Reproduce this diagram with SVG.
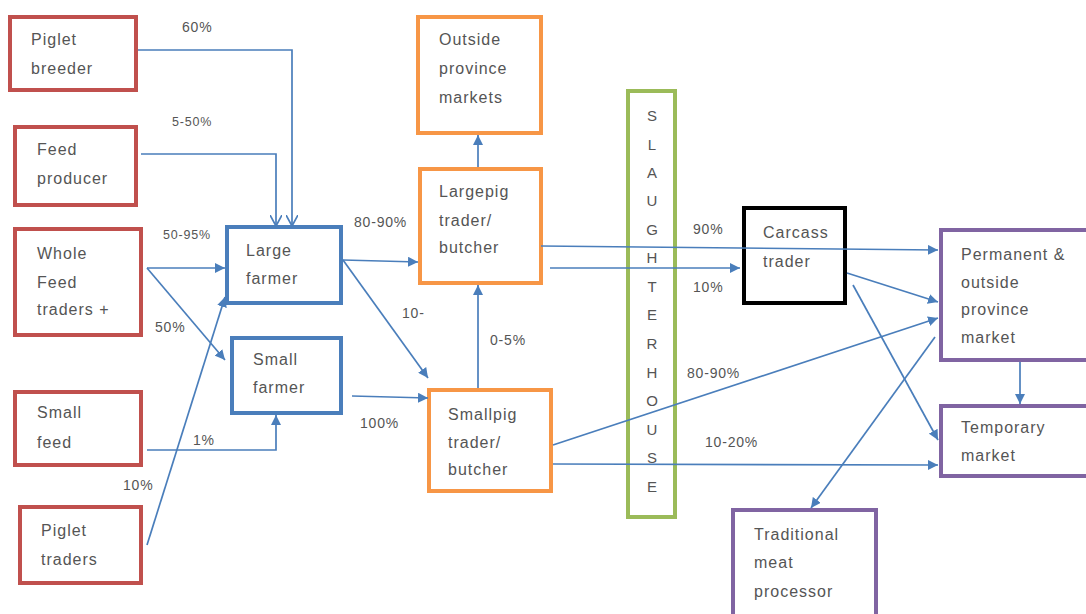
<svg xmlns="http://www.w3.org/2000/svg" width="1086" height="614" viewBox="0 0 1086 614">
<style>
text{font-family:"Liberation Sans",Arial,sans-serif;fill:#555;}
.n{font-size:16px;letter-spacing:1px;}
.p{font-size:14px;letter-spacing:0.8px;}
.ps{font-size:12.5px;letter-spacing:0.8px;}
.box{fill:#fff;stroke-width:4;}
.red{stroke:#c0504d;}
.blue{stroke:#4a7ebb;}
.orange{stroke:#f79646;}
.green{stroke:#9bbb59;}
.purple{stroke:#8064a2;}
.black{stroke:#000;}
.c{fill:none;stroke:#4a7ebb;stroke-width:1.7;}
</style>
<defs>
<marker id="a" viewBox="0 0 10 10" refX="10" refY="5" markerWidth="10" markerHeight="10" markerUnits="userSpaceOnUse" orient="auto"><path d="M0,0 L10,5 L0,10 z" fill="#4a7ebb"/></marker>
<marker id="o" viewBox="0 0 12 12" refX="11" refY="6" markerWidth="12" markerHeight="12" markerUnits="userSpaceOnUse" orient="auto"><path d="M0,0 L11,6 L0,12" fill="none" stroke="#4a7ebb" stroke-width="1.7"/></marker>
</defs>
<rect width="1086" height="614" fill="#fff"/>
<g id="piglet-breeder"><rect class="box red" x="10" y="17" width="126" height="73"/><text class="n" x="31" y="45">Piglet</text><text class="n" x="31" y="74">breeder</text></g>
<g id="feed-producer"><rect class="box red" x="15" y="127" width="121" height="78"/><text class="n" x="37" y="155">Feed</text><text class="n" x="37" y="184">producer</text></g>
<g id="whole-feed-traders"><rect class="box red" x="15" y="229" width="126" height="106"/><text class="n" x="37" y="259">Whole</text><text class="n" x="37" y="288">Feed</text><text class="n" x="37" y="315">traders +</text></g>
<g id="small-feed"><rect class="box red" x="15" y="392" width="126" height="73"/><text class="n" x="37" y="418">Small</text><text class="n" x="37" y="448">feed</text></g>
<g id="piglet-traders"><rect class="box red" x="20" y="507" width="121" height="76"/><text class="n" x="41" y="536">Piglet</text><text class="n" x="41" y="565">traders</text></g>
<g id="large-farmer"><rect class="box blue" x="227" y="227" width="114" height="76"/><text class="n" x="246" y="256">Large</text><text class="n" x="246" y="284">farmer</text></g>
<g id="small-farmer"><rect class="box blue" x="232" y="338" width="109" height="75"/><text class="n" x="253" y="365">Small</text><text class="n" x="253" y="393">farmer</text></g>
<g id="outside-province-markets"><rect class="box orange" x="418" y="17" width="123" height="116"/><text class="n" x="439" y="45">Outside</text><text class="n" x="439" y="74">province</text><text class="n" x="439" y="103">markets</text></g>
<g id="largepig-trader"><rect class="box orange" x="420" y="169" width="121" height="114"/><text class="n" x="439" y="197">Largepig</text><text class="n" x="439" y="226">trader/</text><text class="n" x="439" y="253">butcher</text></g>
<g id="smallpig-trader"><rect class="box orange" x="429" y="390" width="122" height="101"/><text class="n" x="448" y="420">Smallpig</text><text class="n" x="448" y="448">trader/</text><text class="n" x="448" y="475">butcher</text></g>
<g id="slaughterhouse"><rect class="box green" x="628" y="91" width="47" height="426"/>
<g font-size="15" text-anchor="middle"><text x="652" y="121" style="font-size:15px">S</text><text x="652" y="150" style="font-size:15px">L</text><text x="652" y="178" style="font-size:15px">A</text><text x="652" y="206" style="font-size:15px">U</text><text x="652" y="235" style="font-size:15px">G</text><text x="652" y="263" style="font-size:15px">H</text><text x="652" y="292" style="font-size:15px">T</text><text x="652" y="320" style="font-size:15px">E</text><text x="652" y="349" style="font-size:15px">R</text><text x="652" y="378" style="font-size:15px">H</text><text x="652" y="406" style="font-size:15px">O</text><text x="652" y="435" style="font-size:15px">U</text><text x="652" y="463" style="font-size:15px">S</text><text x="652" y="492" style="font-size:15px">E</text></g></g>
<g id="carcass-trader"><rect class="box black" x="744" y="208" width="101" height="95"/><text class="n" x="763" y="238">Carcass</text><text class="n" x="763" y="267">trader</text></g>
<g id="permanent-market"><rect class="box purple" x="941" y="230" width="150" height="130"/><text class="n" x="961" y="260">Permanent &amp;</text><text class="n" x="961" y="288">outside</text><text class="n" x="961" y="315">province</text><text class="n" x="961" y="343">market</text></g>
<g id="temporary-market"><rect class="box purple" x="941" y="406" width="150" height="70"/><text class="n" x="961" y="433">Temporary</text><text class="n" x="961" y="461">market</text></g>
<g id="traditional-processor"><rect class="box purple" x="733" y="510" width="143" height="110"/><text class="n" x="754" y="540">Traditional</text><text class="n" x="754" y="568">meat</text><text class="n" x="754" y="597">processor</text></g>
<g id="connectors">
<path class="c" d="M138,50 H292 V226" marker-end="url(#o)"/>
<path class="c" d="M141,154 H276 V226" marker-end="url(#o)"/>
<path class="c" d="M147,268 H225" marker-end="url(#a)"/>
<path class="c" d="M147,268 L225,360" marker-end="url(#a)"/>
<path class="c" d="M147,545 L225,297" marker-end="url(#a)"/>
<path class="c" d="M147,450 H276 V415" marker-end="url(#a)"/>
<path class="c" d="M343,260 L418,262" marker-end="url(#a)"/>
<path class="c" d="M343,260 L428,378" marker-end="url(#a)"/>
<path class="c" d="M352,396 L428,398" marker-end="url(#a)"/>
<path class="c" d="M478,388 V285" marker-end="url(#a)"/>
<path class="c" d="M478,167 V135" marker-end="url(#a)"/>
<path class="c" d="M541,246 L938,250" marker-end="url(#a)"/>
<path class="c" d="M550,268 L740,268" marker-end="url(#a)"/>
<path class="c" d="M847,273 L938,302" marker-end="url(#a)"/>
<path class="c" d="M853,285 L938,440" marker-end="url(#a)"/>
<path class="c" d="M553,445 L938,318" marker-end="url(#a)"/>
<path class="c" d="M553,464 L938,465" marker-end="url(#a)"/>
<path class="c" d="M1020,362 V404" marker-end="url(#a)"/>
<path class="c" d="M935,337 L811,508" marker-end="url(#a)"/>
</g>
<g id="labels">
<text class="p" x="182" y="32">60%</text>
<text class="ps" x="172" y="126">5-50%</text>
<text class="ps" x="163" y="239">50-95%</text>
<text class="p" x="155" y="332">50%</text>
<text class="p" x="193" y="445">1%</text>
<text class="p" x="123" y="490">10%</text>
<text class="p" x="354" y="227">80-90%</text>
<text class="p" x="402" y="318">10-</text>
<text class="p" x="490" y="345">0-5%</text>
<text class="p" x="360" y="428">100%</text>
<text class="p" x="693" y="234">90%</text>
<text class="p" x="693" y="292">10%</text>
<text class="p" x="687" y="378">80-90%</text>
<text class="p" x="705" y="447">10-20%</text>
</g>
</svg>
